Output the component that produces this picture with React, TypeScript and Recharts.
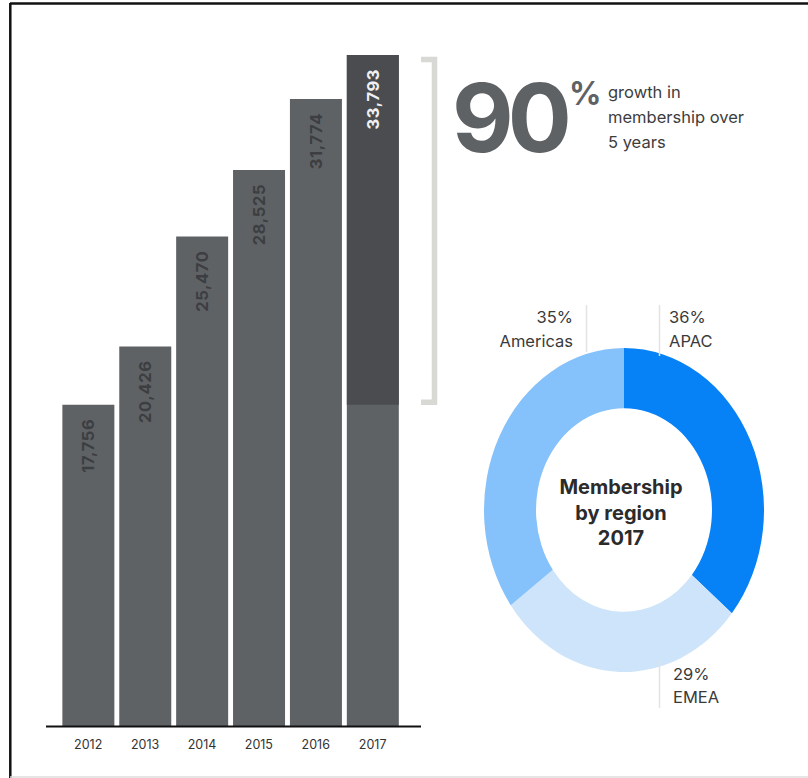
import { BarChart, Bar, XAxis, YAxis, LabelList, PieChart, Pie, Cell } from 'recharts';

// membership by year
const years = ['2012', '2013', '2014', '2015', '2016', '2017'];
const members = [17756, 20426, 25470, 28525, 31774, 33793];

// 2017 split by region
const regions = ['APAC', 'EMEA', 'Americas'];
const regionShares = [36, 29, 35];
const regionColors = ['#0782f6', '#cde4fa', '#85c1fa'];

const Y_MIN = 3000;
const Y_MAX = 33793;
const PLOT_TOP = 55;
const PLOT_BOTTOM = 726.5;
const FONT = 'Inter, "Open Sans", sans-serif';

const BAR_COLOR = '#5f6265';
const BAR_DARK = '#4a4c4f';

const last = years.length - 1;
const growthPct = Math.round(((members[last] - members[0]) / members[0]) * 100);

const barData = years.map((year, i) => ({
  year,
  members: members[i],
  growth: i === last ? [members[0], members[i]] : null,
}));

const pieData = regions.map((name, i) => ({ name, share: regionShares[i] }));

// y position of a value on the bar chart (used for the bracket annotation)
const yOf = (v: number) => PLOT_TOP + ((Y_MAX - v) / (Y_MAX - Y_MIN)) * (PLOT_BOTTOM - PLOT_TOP);

const fmt = (v: number) => v.toLocaleString('en-US');

function renderBarLabel(props: any, color: string) {
  const { x, y, width, value } = props;
  if (value == null) return null;
  const v = Array.isArray(value) ? value[1] : value;
  const cx = Number(x) + Number(width) / 2;
  const ty = Number(y) + 14;
  return (
    <text
      x={cx}
      y={ty}
      transform={`rotate(-90, ${cx}, ${ty})`}
      textAnchor="end"
      dominantBaseline="central"
      fill={color}
      fontSize={16.5}
      fontWeight={700}
      letterSpacing={0.6}
      fontFamily={FONT}
    >
      {fmt(Number(v))}
    </text>
  );
}

function YearTick(props: any) {
  const { x, y, payload } = props;
  return (
    <text x={x} y={y + 10} textAnchor="middle" dominantBaseline="central" fill="#333" fontSize={12.5} fontFamily={FONT}>
      {payload.value}
    </text>
  );
}

export default function App() {
  const pad = { left: 13.75, right: 19.9 };
  const bracketTop = yOf(members[last]) + 4.5;
  const bracketBottom = yOf(members[0]) - 2.5;

  return (
    <div style={{ position: 'absolute', left: 0, top: 0, width: 808, height: 778, background: '#fff', overflow: 'hidden' }}>
      <div style={{ position: 'absolute', left: 0, top: 0 }}>
        <BarChart
          width={430}
          height={778}
          data={barData}
          margin={{ top: PLOT_TOP, right: 9, left: 46, bottom: 778 - PLOT_BOTTOM - 30 }}
          barCategoryGap="4.6%"
        >
          <XAxis
            dataKey="year"
            height={30}
            padding={pad}
            axisLine={{ stroke: '#111', strokeWidth: 2 }}
            tickLine={false}
            tick={<YearTick />}
            interval={0}
          />
          <XAxis xAxisId="over" dataKey="year" hide padding={pad} />
          <YAxis hide type="number" domain={[Y_MIN, Y_MAX]} allowDataOverflow />
          <Bar dataKey="members" fill={BAR_COLOR} isAnimationActive={false}>
            <LabelList content={(p: any) => (Number(p.value) === members[last] ? null : renderBarLabel(p, '#3c3e41'))} />
          </Bar>
          <Bar dataKey="growth" xAxisId="over" fill={BAR_DARK} isAnimationActive={false}>
            <LabelList content={(p: any) => renderBarLabel(p, '#eef0f4')} />
          </Bar>
        </BarChart>
      </div>

      <div
        style={{
          position: 'absolute',
          left: 483.5,
          top: 370,
          width: 280,
          height: 280,
          transform: 'scaleY(1.157)',
          transformOrigin: '50% 50%',
        }}
      >
        <PieChart width={280} height={280} margin={{ top: 0, right: 0, bottom: 0, left: 0 }}>
          <Pie
            data={pieData}
            dataKey="share"
            nameKey="name"
            cx={140}
            cy={140}
            innerRadius={88}
            outerRadius={140}
            startAngle={90}
            endAngle={-270}
            stroke="none"
            isAnimationActive={false}
          >
            {pieData.map((d, i) => (
              <Cell key={d.name} fill={regionColors[i]} />
            ))}
          </Pie>
        </PieChart>
      </div>

      <svg width={808} height={778} style={{ position: 'absolute', left: 0, top: 0, pointerEvents: 'none' }} fontFamily={FONT}>
        {/* frame */}
        <line x1={10} y1={3.5} x2={808} y2={3.5} stroke="#111" strokeWidth={2.5} />
        <line x1={10.3} y1={3} x2={10.3} y2={778} stroke="#111" strokeWidth={2.5} />
        <line x1={10} y1={777} x2={808} y2={777} stroke="#dcdcdc" strokeWidth={1.5} />

        {/* growth bracket */}
        <path
          d={`M421 ${bracketTop} H434.5 V${bracketBottom} H421`}
          fill="none"
          stroke="#d8d8d5"
          strokeWidth={5.5}
        />

        {/* headline */}
        <text x={452} y={152} fontSize={95} fontWeight={700} fill={BAR_COLOR} letterSpacing={-6}>
          {growthPct}
        </text>
        <text x={569} y={105} fontSize={32} fontWeight={700} fill={BAR_COLOR}>
          %
        </text>
        <g fontSize={16.5} fill="#3d3d3d">
          <text x={608} y={98}>growth in</text>
          <text x={608} y={123}>membership over</text>
          <text x={608} y={148}>5 years</text>
        </g>

        {/* leader lines */}
        <g stroke="#e3e3e3" strokeWidth={1.5}>
          <line x1={586.5} y1={305} x2={586.5} y2={352} />
          <line x1={659.5} y1={305} x2={659.5} y2={356} />
          <line x1={659.5} y1={660} x2={659.5} y2={708} />
        </g>

        {/* region labels */}
        <g fontSize={16.5} fill="#3a3a3a">
          <text x={573} y={323} textAnchor="end">{regionShares[2]}%</text>
          <text x={573} y={347} textAnchor="end">{regions[2]}</text>
          <text x={669} y={323}>{regionShares[0]}%</text>
          <text x={669} y={347}>{regions[0]}</text>
          <text x={673} y={680}>{regionShares[1]}%</text>
          <text x={673} y={703}>{regions[1]}</text>
        </g>

        {/* donut centre */}
        <g fontSize={20} fontWeight={700} fill="#2b2b2b" textAnchor="middle">
          <text x={621} y={494}>Membership</text>
          <text x={621} y={520}>by region</text>
          <text x={621} y={545}>2017</text>
        </g>
      </svg>
    </div>
  );
}
